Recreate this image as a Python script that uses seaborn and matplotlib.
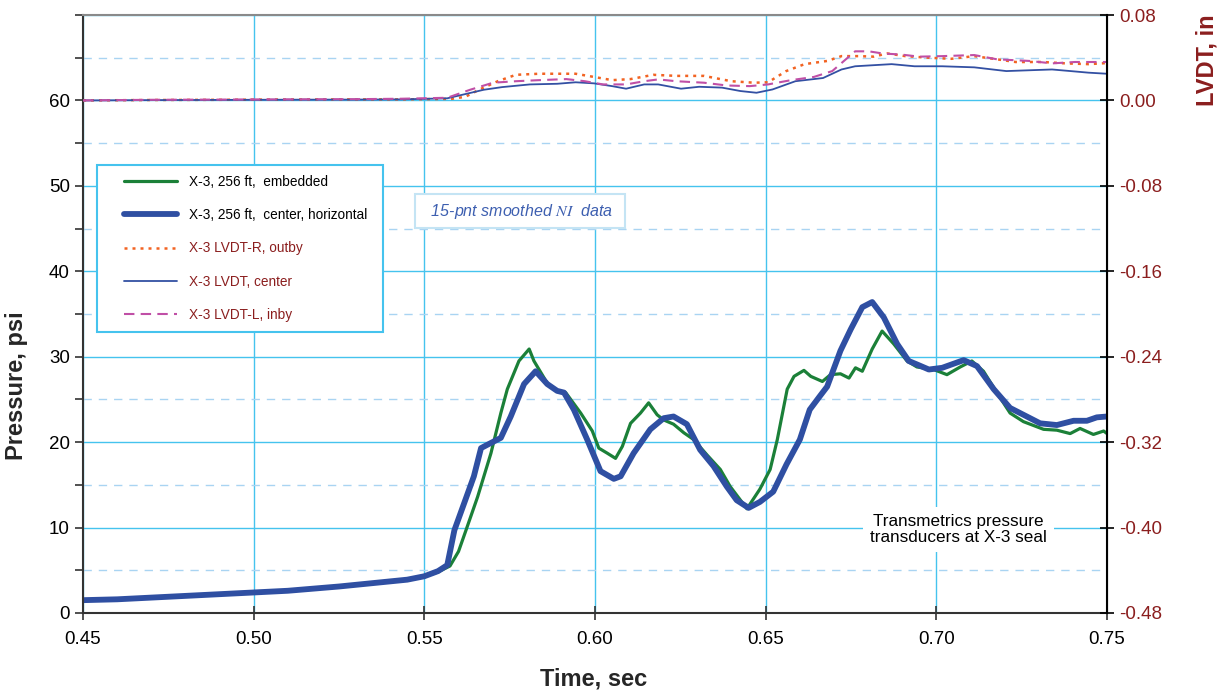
import numpy as np
import pandas as pd
import seaborn as sns
import matplotlib.pyplot as plt
from matplotlib.patches import Rectangle
from matplotlib.ticker import MultipleLocator, FormatStrFormatter

# pressure, X-3 256 ft embedded (green)
t_emb = [0.45, 0.46, 0.475, 0.49, 0.50, 0.51, 0.525, 0.535, 0.545, 0.55, 0.554, 0.5575,
         0.5600, 0.5622, 0.5656, 0.5695, 0.5724, 0.5743, 0.5777, 0.5807, 0.5821, 0.5860,
         0.5889, 0.5914, 0.5958, 0.5992, 0.6011, 0.6036, 0.6060, 0.6080, 0.6104, 0.6133,
         0.6157, 0.6182, 0.6201, 0.6230, 0.6260, 0.6289, 0.6328, 0.6367, 0.6396, 0.6445,
         0.6483, 0.6513, 0.6534, 0.6563, 0.6583, 0.6612, 0.6632, 0.6666, 0.6690, 0.6719,
         0.6744, 0.6763, 0.6783, 0.6812, 0.6841, 0.6875, 0.6914, 0.6943, 0.6992, 0.7031,
         0.7070, 0.7104, 0.7138, 0.7177, 0.7216, 0.7255, 0.7314, 0.7353, 0.7392, 0.7421,
         0.7460, 0.7490, 0.75]
p_emb = [1.5, 1.6, 1.9, 2.2, 2.4, 2.6, 3.1, 3.5, 3.9, 4.3, 4.8, 5.5,
         7.2, 9.7, 13.6, 18.7, 23.4, 26.2, 29.5, 30.9, 29.5, 26.9,
         26.0, 25.8, 23.4, 21.3, 19.3, 18.7, 18.1, 19.5, 22.2, 23.4,
         24.6, 23.2, 22.6, 22.1, 21.1, 20.3, 18.5, 16.8, 14.8, 12.2,
         14.5, 16.8, 20.3, 26.2, 27.7, 28.4, 27.7, 27.1, 27.9, 28.0,
         27.5, 28.7, 28.3, 30.9, 33.0, 31.5, 29.5, 28.8, 28.5, 27.9,
         28.8, 29.5, 28.3, 25.8, 23.4, 22.4, 21.5, 21.4, 21.0, 21.6,
         20.9, 21.3, 21.0]

# pressure, X-3 256 ft center horizontal (blue)
t_ctr = [0.45, 0.46, 0.475, 0.49, 0.50, 0.51, 0.525, 0.535, 0.545, 0.55, 0.554, 0.5567,
         0.5588, 0.5617, 0.5645, 0.5666, 0.5685, 0.5724, 0.5753, 0.5792, 0.5826, 0.5860,
         0.5889, 0.5909, 0.5938, 0.5977, 0.6016, 0.6055, 0.6075, 0.6113, 0.6162, 0.6201,
         0.6230, 0.6269, 0.6308, 0.6347, 0.6386, 0.6415, 0.6450, 0.6483, 0.6522, 0.6561,
         0.6600, 0.6629, 0.6659, 0.6680, 0.6719, 0.6749, 0.6783, 0.6812, 0.6846, 0.6885,
         0.6919, 0.6943, 0.6978, 0.7017, 0.7080, 0.7119, 0.7168, 0.7216, 0.7265, 0.7304,
         0.7353, 0.7402, 0.7441, 0.7470, 0.75]
p_ctr = [1.5, 1.6, 1.9, 2.2, 2.4, 2.6, 3.1, 3.5, 3.9, 4.3, 4.9, 5.6,
         9.7, 12.9, 16.0, 19.3, 19.7, 20.5, 23.0, 26.8, 28.3, 26.8,
         26.0, 25.8, 23.8, 20.3, 16.6, 15.7, 16.0, 18.7, 21.5, 22.8,
         23.0, 22.1, 19.1, 17.2, 14.8, 13.2, 12.3, 13.0, 14.2, 17.4,
         20.3, 23.8, 25.4, 26.5, 30.7, 33.2, 35.8, 36.4, 34.6, 31.5,
         29.5, 29.1, 28.5, 28.7, 29.6, 28.9, 26.2, 24.0, 23.0, 22.2,
         22.0, 22.5, 22.5, 22.9, 23.0]

# LVDT displacements, in
t_lr = [0.45, 0.47, 0.49, 0.51, 0.53, 0.5433, 0.558, 0.562, 0.566, 0.5715, 0.5768, 0.5836,
        0.5943, 0.5997, 0.6050, 0.6104, 0.6171, 0.6238, 0.6319, 0.6399, 0.6466, 0.6507,
        0.6560, 0.6614, 0.6681, 0.6722, 0.6775, 0.6816, 0.6856, 0.6909, 0.6977, 0.7044,
        0.7111, 0.7178, 0.7232, 0.7312, 0.7379, 0.7446, 0.75]
v_lr = [0.000, 0.0004, 0.0006, 0.0009, 0.0010, 0.0010, 0.0015, 0.0034, 0.010, 0.018, 0.024, 0.025,
        0.025, 0.022, 0.019, 0.020, 0.024, 0.023, 0.023, 0.018, 0.0166, 0.017,
        0.0275, 0.034, 0.037, 0.0415, 0.0415, 0.041, 0.044, 0.0415, 0.040, 0.039,
        0.0415, 0.0385, 0.036, 0.036, 0.0347, 0.034, 0.035]

t_lc = [0.45, 0.47, 0.49, 0.51, 0.53, 0.5433, 0.5567, 0.5607, 0.5674, 0.5728, 0.5809, 0.5889,
        0.5943, 0.5997, 0.6050, 0.6091, 0.6144, 0.6185, 0.6252, 0.6305, 0.6372, 0.6426,
        0.6473, 0.6520, 0.6587, 0.6668, 0.6722, 0.6762, 0.6869, 0.6936, 0.7017, 0.7111,
        0.7205, 0.7285, 0.7339, 0.7393, 0.7446, 0.75]
v_lc = [0.000, 0.0003, 0.0005, 0.0007, 0.0008, 0.001, 0.002, 0.005, 0.010, 0.0125, 0.015, 0.0156,
        0.017, 0.016, 0.0134, 0.011, 0.015, 0.015, 0.011, 0.0128, 0.012, 0.0088,
        0.0072, 0.0103, 0.018, 0.021, 0.029, 0.032, 0.034, 0.032, 0.032, 0.031,
        0.0275, 0.0284, 0.029, 0.0275, 0.026, 0.025]

t_ll = [0.45, 0.47, 0.49, 0.51, 0.53, 0.5433, 0.5567, 0.5634, 0.5701, 0.5768, 0.5836, 0.5916,
        0.5970, 0.6023, 0.6091, 0.6144, 0.6185, 0.6238, 0.6319, 0.6386, 0.6453, 0.6507,
        0.6574, 0.6641, 0.6695, 0.6722, 0.6762, 0.6802, 0.6842, 0.6896, 0.6950, 0.7017,
        0.7111, 0.7178, 0.7272, 0.7339, 0.7406, 0.75]
v_ll = [0.000, 0.0006, 0.0008, 0.0010, 0.0012, 0.0016, 0.0025, 0.010, 0.0166, 0.018, 0.019, 0.020,
        0.018, 0.015, 0.015, 0.018, 0.0197, 0.018, 0.0166, 0.014, 0.0134, 0.015,
        0.019, 0.022, 0.0275, 0.035, 0.046, 0.046, 0.044, 0.043, 0.041, 0.0415,
        0.0425, 0.0385, 0.037, 0.0347, 0.036, 0.036]

labels = ['X-3, 256 ft,  embedded', 'X-3, 256 ft,  center, horizontal',
          'X-3 LVDT-R, outby', 'X-3 LVDT, center', 'X-3 LVDT-L, inby']

sns.set_style('white')
plt.rcParams['font.family'] = ['Liberation Sans', 'DejaVu Sans']
plt.rcParams['mathtext.fontset'] = 'stix'

red = '#8b1e1e'
grid_c = '#45c3ee'

fig = plt.figure(figsize=(12.25, 6.92), dpi=100)
ax = fig.add_axes([0.0678, 0.1142, 0.8359, 0.8641])
ax2 = ax.twinx()

sns.lineplot(x=t_emb, y=p_emb, ax=ax, color='#1b8038', lw=2.3, label=labels[0], legend=False)
sns.lineplot(x=t_ctr, y=p_ctr, ax=ax, color='#2f4fa2', lw=4.2, label=labels[1], legend=False)

sns.lineplot(x=t_lr, y=v_lr, ax=ax2, color='#f26322', lw=1.8, linestyle=(0, (1.2, 2.0)),
             label=labels[2], legend=False)
sns.lineplot(x=t_lc, y=v_lc, ax=ax2, color='#3350a3', lw=1.3, label=labels[3], legend=False)
sns.lineplot(x=t_ll, y=v_ll, ax=ax2, color='#c04fa6', lw=1.5, linestyle=(0, (5, 3)),
             label=labels[4], legend=False)

ax.set_xlim(0.45, 0.75)
ax.set_ylim(0, 70)
ax2.set_ylim(-0.48, 0.08)

ax.xaxis.set_major_locator(MultipleLocator(0.05))
ax.xaxis.set_major_formatter(FormatStrFormatter('%.2f'))
ax.yaxis.set_minor_locator(MultipleLocator(5))
ax.set_yticks(np.arange(0, 71, 10))
ax.set_yticklabels([str(v) for v in range(0, 61, 10)] + [''])
ax2.set_yticks(np.arange(-0.48, 0.081, 0.08))
ax2.yaxis.set_major_formatter(FormatStrFormatter('%.2f'))

ax.grid(True, which='major', color=grid_c, lw=1.0, ls='-')
ax.grid(True, which='minor', axis='y', color='#a9d4f2', lw=1.0, ls=(0, (6, 5)))
ax.set_axisbelow(True)

ax.tick_params(axis='y', which='both', direction='out', length=6, width=1.2,
               labelsize=13.5, colors='#333333', labelcolor='black', left=True)
ax.tick_params(axis='x', direction='inout', length=10, width=1.2, labelsize=13.5,
               colors='#333333', labelcolor='black', bottom=True, pad=8)
ax2.tick_params(axis='y', direction='inout', length=10, width=1.2, labelsize=13.5,
                colors='black', labelcolor=red, right=True)

for s in ['left', 'bottom']:
    ax.spines[s].set_color('#333333')
    ax.spines[s].set_linewidth(1.5)
ax.spines['top'].set_color('#8a8a8a')
ax.spines['top'].set_linewidth(1.5)
ax2.spines['right'].set_color('black')
ax2.spines['right'].set_linewidth(1.5)
ax2.spines['top'].set_visible(False)
ax2.spines['left'].set_visible(False)
ax2.spines['bottom'].set_visible(False)

ax.set_xlabel('Time, sec', fontsize=17, fontweight='bold')
ax.set_ylabel('Pressure, psi', fontsize=17, fontweight='bold')
ax2.set_ylabel('LVDT, in', fontsize=17, fontweight='bold', color=red)
ax.xaxis.set_label_coords(0.499, -0.092)
ax.yaxis.set_label_coords(-0.054, 0.38)
ax2.yaxis.set_label_coords(1.086, 0.925)

# legend frame drawn separately so its padding matches the original box
ax2.add_patch(Rectangle((0.0137, 0.470), 0.2793, 0.279, transform=ax2.transAxes,
                        fc='white', ec=grid_c, lw=1.5, zorder=4))
h1, l1 = ax.get_legend_handles_labels()
h2, l2 = ax2.get_legend_handles_labels()
leg = ax2.legend(h1 + h2, l1 + l2, loc='upper left', bbox_to_anchor=(0.040, 0.733),
                 frameon=False, prop={'family': 'Liberation Sans', 'size': 9.8},
                 handlelength=3.9, labelspacing=1.42, borderpad=0, handletextpad=0.85,
                 borderaxespad=0)
leg.set_zorder(5)
for txt, c in zip(leg.get_texts(), ['black', 'black', red, red, red]):
    txt.set_color(c)

ax2.text(0.4268, 0.672, '  15-pnt smoothed $NI$  data  ', transform=ax2.transAxes,
         ha='center', va='center', fontsize=11.5, style='italic', color='#3d5fb0',
         bbox=dict(boxstyle='square,pad=0.45', fc='white', ec='#c4e4f4', lw=1.5))
ax2.text(0.855, 0.139, 'Transmetrics pressure\ntransducers at X-3 seal',
         transform=ax2.transAxes, ha='center', va='center', fontsize=12.3,
         color='black', linespacing=1.1,
         bbox=dict(boxstyle='square,pad=0.4', fc='white', ec='none'))

fig.savefig('out.png', dpi=100)
